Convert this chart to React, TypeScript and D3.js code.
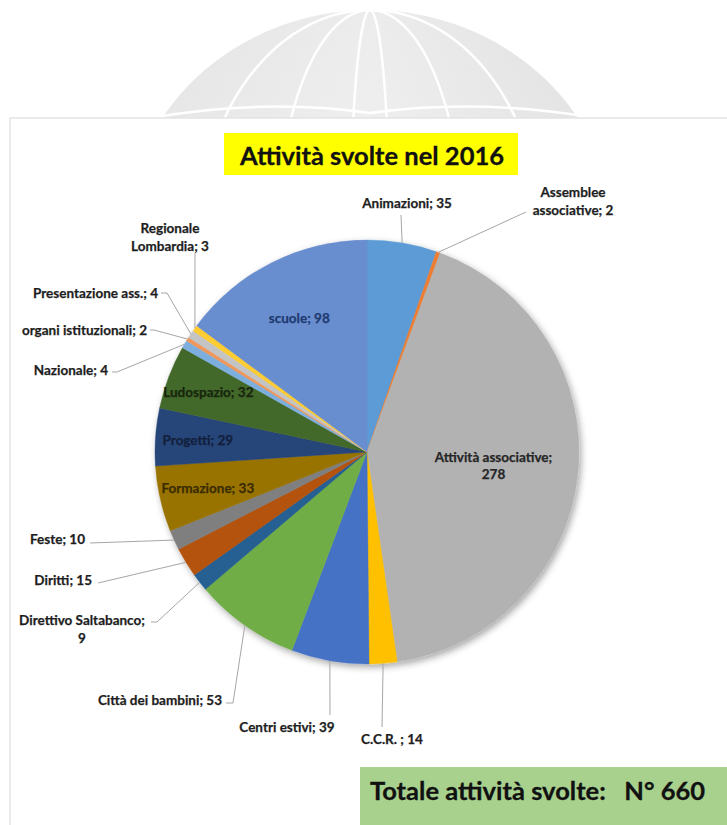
import React from 'react';
import * as d3 from 'd3';

const categories = [
  'Animazioni', 'Assemblee associative', 'Attività associative', 'C.C.R. ', 'Centri estivi',
  'Città dei bambini', 'Direttivo Saltabanco', 'Diritti', 'Feste', 'Formazione', 'Progetti',
  'Ludospazio', 'Nazionale', 'organi istituzionali', 'Presentazione ass.', 'Regionale Lombardia', 'scuole',
];
const values = [35, 2, 278, 14, 39, 53, 9, 15, 10, 33, 29, 32, 4, 2, 4, 3, 98];
const sliceColors = [
  '#5B9BD5', '#ED7D31', '#B2B2B2', '#FFC000', '#4472C4', '#70AD47', '#255E91', '#B4520F', '#7F7F7F',
  '#997300', '#264478', '#43682B', '#7CAFDD', '#F1975A', '#C4C4C4', '#FFCD33', '#698ED0',
];
const chartTitle = 'Attività svolte nel 2016';
const totalText = 'Totale attività svolte:   N° 660';

// label layout (placement only)
type Lay = { inside?: number; x?: number; y?: number; anchor?: string; split?: number; path?: [number, number][]; color?: string };
const layout: Lay[] = [
  { x: 407, y: 203, anchor: 'middle', path: [[401, 215]] },
  { x: 573, y: 192, anchor: 'middle', split: 1, path: [[526, 212]] },
  { inside: 0.6, split: 2, color: '#262626' },
  { x: 392, y: 739, anchor: 'middle', path: [[382, 727]] },
  { x: 287, y: 727, anchor: 'middle', path: [[330, 715]] },
  { x: 222, y: 700, anchor: 'end', path: [[233, 703], [226, 703]] },
  { x: 82, y: 620, anchor: 'middle', split: 2, path: [[157, 622], [151, 622]] },
  { x: 92, y: 580, anchor: 'end', path: [[98, 583]] },
  { x: 85, y: 539, anchor: 'end', path: [[90, 543]] },
  { inside: 0.77, color: '#3a2c00' },
  { inside: 0.8, color: '#13203d' },
  { inside: 0.8, color: '#17260d' },
  { x: 108, y: 370, anchor: 'end', path: [[117, 372], [112, 372]] },
  { x: 147, y: 330, anchor: 'end', path: [[154, 330], [150, 330]] },
  { x: 158, y: 293, anchor: 'end', path: [[167, 293], [161, 293]] },
  { x: 170, y: 228, anchor: 'middle', split: 1, path: [[195, 253]] },
  { inside: 0.71, color: '#1f3b70' },
];

const W = 727;
const H = 825;
const cx = 367;
const cy = 452;
const R = 212;
const FONT = 'Lato, "Open Sans", sans-serif';

export default function App() {
  const pie = d3.pie<number>().value((d) => d).sort(null).startAngle(0).endAngle(2 * Math.PI);
  const arcs = pie(values);
  const arcGen = d3.arc<d3.PieArcDatum<number>>().innerRadius(0).outerRadius(R);
  const edgeArc = d3.arc<d3.PieArcDatum<number>>().innerRadius(R).outerRadius(R);

  const labelLines = (i: number) => {
    const words = `${categories[i]}; ${values[i]}`.split(' ');
    const s = layout[i].split;
    if (!s) return [words.join(' ')];
    return [words.slice(0, s).join(' '), words.slice(s).join(' ')];
  };
  const lineH = 17.5;

  return (
    <svg width={W} height={H} style={{ position: 'absolute', left: 0, top: 0 }} fontFamily={FONT}>
      <defs>
        <linearGradient id="wm" x1="0" y1="0" x2="0" y2="1">
          <stop offset="0" stopColor="#e0e0e0" />
          <stop offset="1" stopColor="#f6f6f6" />
        </linearGradient>
        <linearGradient id="wm2" x1="0" y1="0" x2="1" y2="0">
          <stop offset="0" stopColor="#e6e6e6" />
          <stop offset="0.5" stopColor="#f8f8f8" />
          <stop offset="1" stopColor="#e0e0e0" />
        </linearGradient>
        <clipPath id="wmclip">
          <rect x={0} y={0} width={W} height={118} />
        </clipPath>
        <filter id="shadow" x="-10%" y="-10%" width="125%" height="125%">
          <feDropShadow dx="2" dy="3" stdDeviation="3.5" floodColor="#000" floodOpacity="0.35" />
        </filter>
      </defs>
      <rect x={0} y={0} width={W} height={H} fill="#fff" />
      {/* watermark dome */}
      <g clipPath="url(#wmclip)">
        <ellipse cx={370} cy={240} rx={245} ry={230} fill="url(#wm2)" />
        <ellipse cx={370} cy={240} rx={245} ry={230} fill="url(#wm)" opacity={0.5} />
        {[0.7, 0.38, 0.08].map((k, j) => (
          <ellipse key={j} cx={370} cy={240} rx={245 * k} ry={230} fill="none" stroke="#fff" strokeWidth={2.5} />
        ))}
        <path d="M150,118 Q262,98 370,113 Q480,98 595,118" fill="none" stroke="#fff" strokeWidth={2.5} />
      </g>
      {/* chart frame */}
      <rect x={10} y={118} width={W} height={H} fill="#fff" stroke="#e3e3e3" strokeWidth={1.5} />

      {/* title */}
      <rect x={224} y={133} width={294} height={42} fill="#FFFF00" />
      <text x={372} y={155} textAnchor="middle" dominantBaseline="central" fontSize={25.5} fontWeight={700} fill="#111"
        stroke="#111" strokeWidth={0.3}>
        {chartTitle}
      </text>

      {/* pie */}
      <g transform={`translate(${cx},${cy})`} filter="url(#shadow)">
        {arcs.map((a, i) => (
          <path key={i} d={arcGen(a) || ''} fill={sliceColors[i]} stroke={sliceColors[i]} strokeWidth={0.4} />
        ))}
      </g>

      {/* leader lines */}
      {arcs.map((a, i) => {
        const L = layout[i];
        if (L.inside || !L.path) return null;
        const [ex, ey] = edgeArc.centroid(a);
        const pts: [number, number][] = [[cx + ex, cy + ey], ...L.path];
        return (
          <path key={i} d={d3.line()(pts) || ''} fill="none" stroke="#a6a6a6" strokeWidth={1} />
        );
      })}

      {/* labels */}
      {arcs.map((a, i) => {
        const L = layout[i];
        const lines = labelLines(i);
        let x: number;
        let y: number;
        let anchor = 'middle';
        if (L.inside) {
          const c = d3.arc<d3.PieArcDatum<number>>().innerRadius(R * L.inside).outerRadius(R * L.inside).centroid(a);
          x = cx + c[0];
          y = cy + c[1] - ((lines.length - 1) * lineH) / 2;
        } else {
          x = L.x!;
          y = L.y!;
          anchor = L.anchor || 'middle';
        }
        const col = L.color || '#1e1e1e';
        return (
          <text key={i} textAnchor={anchor} fontSize={13.5} fontWeight={700} fill={col} stroke={col} strokeWidth={0.25}>
            {lines.map((t, j) => (
              <tspan key={j} x={x} y={y + j * lineH} dominantBaseline="central">
                {t}
              </tspan>
            ))}
          </text>
        );
      })}

      {/* total box */}
      <rect x={360} y={767} width={W - 360} height={H - 767} fill="#A9D18E" />
      <text x={370} y={790} dominantBaseline="central" fontSize={25.5} fontWeight={700} fill="#111" stroke="#111"
        strokeWidth={0.3} style={{ whiteSpace: 'pre' }}>
        {totalText}
      </text>
    </svg>
  );
}
